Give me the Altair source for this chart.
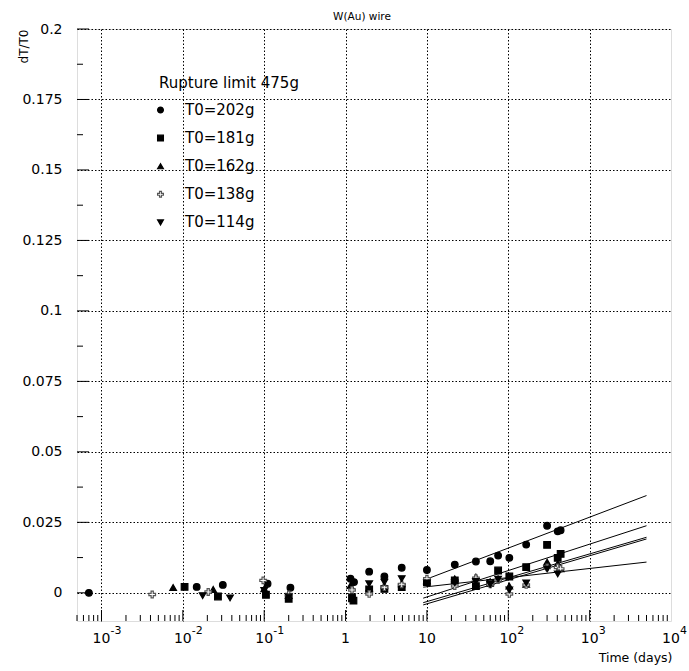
import altair as alt
import pandas as pd

W, H = 594, 592
FONT = "DejaVu Sans"

series_labels = ["T0=202g", "T0=181g", "T0=162g", "T0=138g", "T0=114g"]

t202 = [0.0007, 0.0148, 0.031, 0.11, 0.21, 1.15, 1.27, 1.95, 3.0, 4.9, 10, 22, 40, 60, 75, 103, 166, 300, 405, 440]
dt202 = [0.0, 0.0021, 0.0028, 0.0032, 0.0018, 0.0050, 0.0038, 0.0075, 0.0058, 0.0089, 0.0081, 0.0100, 0.0111, 0.0112, 0.0132, 0.0124, 0.0171, 0.0238, 0.0218, 0.0222]

t181 = [0.0105, 0.027, 0.105, 0.2, 1.2, 1.25, 1.95, 3.0, 4.9, 10, 22, 40, 60, 75, 103, 166, 300, 405, 440]
dt181 = [0.0021, -0.0013, -0.0007, -0.0021, -0.0020, -0.0028, 0.0012, 0.0014, 0.0020, 0.0038, 0.0044, 0.0024, 0.0035, 0.0079, 0.0058, 0.0091, 0.0170, 0.0124, 0.0138]

t162 = [0.0076, 0.0236, 0.1, 0.2, 1.15, 1.95, 3.0, 4.9, 10, 22, 40, 60, 75, 103, 166, 300, 405, 440]
dt162 = [0.0019, 0.0012, 0.0014, -0.0010, 0.0026, 0.0017, 0.0025, 0.0032, 0.0043, 0.0050, 0.0056, 0.0040, 0.0050, 0.0024, 0.0030, 0.0109, 0.0103, 0.0085]

t138 = [0.0042, 0.0205, 0.097, 0.2, 1.2, 1.95, 3.0, 4.9, 10, 22, 40, 60, 75, 103, 166, 300, 405, 440]
dt138 = [-0.0006, 0.0003, 0.0044, -0.0006, 0.0010, -0.0004, 0.0020, 0.0030, 0.0050, 0.0024, 0.0052, 0.0030, 0.0045, -0.0004, 0.0028, 0.0090, 0.0090, 0.0085]

t114 = [0.0175, 0.038, 0.1, 0.2, 1.2, 1.95, 3.0, 4.9, 10, 22, 40, 60, 75, 103, 166, 300, 405]
dt114 = [-0.0010, -0.0018, 0.0008, -0.0015, -0.0015, 0.0032, 0.0038, 0.0050, 0.0035, 0.0035, 0.0040, 0.0030, 0.0048, 0.0010, 0.0035, 0.0085, 0.0067]

# fitted lines (start / end)
fit_t = [9, 5000]
fit202 = [0.0044, 0.0345]
fit181 = [-0.0019, 0.0238]
fit162 = [-0.0035, 0.0197]
fit138 = [-0.0043, 0.0191]
fit114 = [0.0020, 0.0109]

# axis decorations
x_major = [0.001, 0.01, 0.1, 1, 10, 100, 1000]
x_minor = [k * 10.0 ** e for e in range(-4, 4) for k in range(2, 10) if 0.0005 <= k * 10.0 ** e <= 10000]
y_major = [0, 0.025, 0.05, 0.075, 0.1, 0.125, 0.15, 0.175, 0.2]
y_minor = [0.0125, 0.0375, 0.0625, 0.0875, 0.1125, 0.1375, 0.1625, 0.1875]
decade_vals = [0.001, 0.01, 0.1, 1, 10, 100, 1000, 10000]
decade_base = ["10", "10", "10", "1", "10", "10", "10", "10"]
decade_exp = ["-3", "-2", "-1", "", "", "2", "3", "4"]

all_t = [t202, t181, t162, t138, t114]
all_dt = [dt202, dt181, dt162, dt138, dt114]
all_fit = [fit202, fit181, fit162, fit138, fit114]

pts = pd.concat([pd.DataFrame({"t": t, "dt": d, "series": s})
                 for t, d, s in zip(all_t, all_dt, series_labels)], ignore_index=True)
fits = pd.concat([pd.DataFrame({"t": fit_t, "dt": f, "series": s})
                  for f, s in zip(all_fit, series_labels)], ignore_index=True)

xscale = alt.Scale(type="log", domain=[0.0005, 10000], nice=False)
yscale = alt.Scale(domain=[-0.01, 0.2], nice=False, zero=False)

xaxis = alt.Axis(values=x_major, grid=True, ticks=False, tickSize=0, labels=False, domain=False,
                 gridColor="black", gridDash=[1.5, 2], gridWidth=1, gridOpacity=1,
                 title="Time (days)", titleAnchor="end", titleAlign="right",
                 titleX=W + 1, titleY=40.5, titleBaseline="alphabetic",
                 titleFont=FONT, titleFontSize=12.5, titleFontWeight="normal", titleColor="black")
yaxis = alt.Axis(values=y_major, grid=True, ticks=False, tickSize=0, domain=False, format=".3~f",
                 gridColor="black", gridDash=[1.5, 2], gridWidth=1, gridOpacity=1,
                 labelFont=FONT, labelFontSize=14, labelColor="black", labelPadding=15,
                 title="dT/T0", titleAngle=270, titleAlign="right", titleBaseline="middle",
                 titleX=-54, titleY=0, titleFont=FONT, titleFontSize=12,
                 titleFontWeight="normal", titleColor="black")

X = lambda: alt.X("t:Q", scale=xscale, axis=xaxis)
Y = lambda: alt.Y("dt:Q", scale=yscale, axis=yaxis)

cross_path = ("M-0.33,-1L0.33,-1L0.33,-0.33L1,-0.33L1,0.33L0.33,0.33L0.33,1L-0.33,1"
              "L-0.33,0.33L-1,0.33L-1,-0.33L-0.33,-0.33Z")

legend = alt.Legend(orient="none", legendX=82, legendY=46.5, padding=0,
                    title="Rupture limit 475g", titleFont=FONT, titleFontSize=15,
                    titleFontWeight="normal", titleColor="black", titleBaseline="top",
                    titlePadding=12, labelFont=FONT, labelFontSize=15, labelColor="black",
                    labelOffset=17, rowPadding=12.1, symbolSize=34, symbolStrokeWidth=1.2,
                    symbolOffset=-6)

points = alt.Chart(pts).mark_point(size=44, opacity=1, strokeWidth=1.2).encode(
    x=X(), y=Y(),
    shape=alt.Shape("series:N", title="Rupture limit 475g", legend=legend,
                    scale=alt.Scale(domain=series_labels,
                                    range=["circle", "square", "triangle-up", cross_path, "triangle-down"])),
    fill=alt.Fill("series:N", title="Rupture limit 475g",
                  scale=alt.Scale(domain=series_labels,
                                  range=["black", "black", "black", "white", "black"])),
    stroke=alt.Stroke("series:N", title="Rupture limit 475g",
                      scale=alt.Scale(domain=series_labels,
                                      range=["black", "black", "black", "#555555", "black"])),
)

lines = alt.Chart(fits).mark_line(color="black", strokeWidth=1).encode(
    x=X(), y=Y(), detail="series:N",
)

xmaj = alt.Chart(pd.DataFrame({"t": x_major})).mark_rule(color="black", strokeWidth=1).encode(
    x=X(), y=alt.value(H), y2=alt.value(H - 11))
xmin = alt.Chart(pd.DataFrame({"t": x_minor})).mark_rule(color="black", strokeWidth=1).encode(
    x=X(), y=alt.value(H), y2=alt.value(H - 6))
ymaj = alt.Chart(pd.DataFrame({"dt": y_major})).mark_rule(color="black", strokeWidth=1).encode(
    y=Y(), x=alt.value(0), x2=alt.value(12))
ymin = alt.Chart(pd.DataFrame({"dt": y_minor})).mark_rule(color="black", strokeWidth=1).encode(
    y=Y(), x=alt.value(0), x2=alt.value(6))

dec = pd.DataFrame({"t": decade_vals, "base": decade_base, "exp": decade_exp})
base_txt = alt.Chart(dec).mark_text(font=FONT, fontSize=14, color="black", align="center",
                                    baseline="alphabetic").encode(
    x=X(), y=alt.value(H + 22), text="base:N")
exp_txt = alt.Chart(dec).mark_text(font=FONT, fontSize=11, color="black", align="left",
                                   baseline="alphabetic", dx=9).encode(
    x=X(), y=alt.value(H + 13), text="exp:N")

title_txt = alt.Chart(pd.DataFrame({"title": ["W(Au) wire"]})).mark_text(
    font=FONT, fontSize=10.5, color="black", align="center", baseline="alphabetic").encode(
    x=alt.value(W / 2 - 12), y=alt.value(-9.5), text="title:N")

chart = alt.layer(xmin, xmaj, ymin, ymaj, lines, points, base_txt, exp_txt, title_txt).properties(
    width=W, height=H,
    autosize=alt.AutoSizeParams(type="none"),
    padding={"left": 77, "top": 29, "right": 18, "bottom": 50},
).configure_view(stroke="black", strokeWidth=1).configure(background="white")

chart.save("out.html", embed_options={"renderer": "svg", "actions": False})
